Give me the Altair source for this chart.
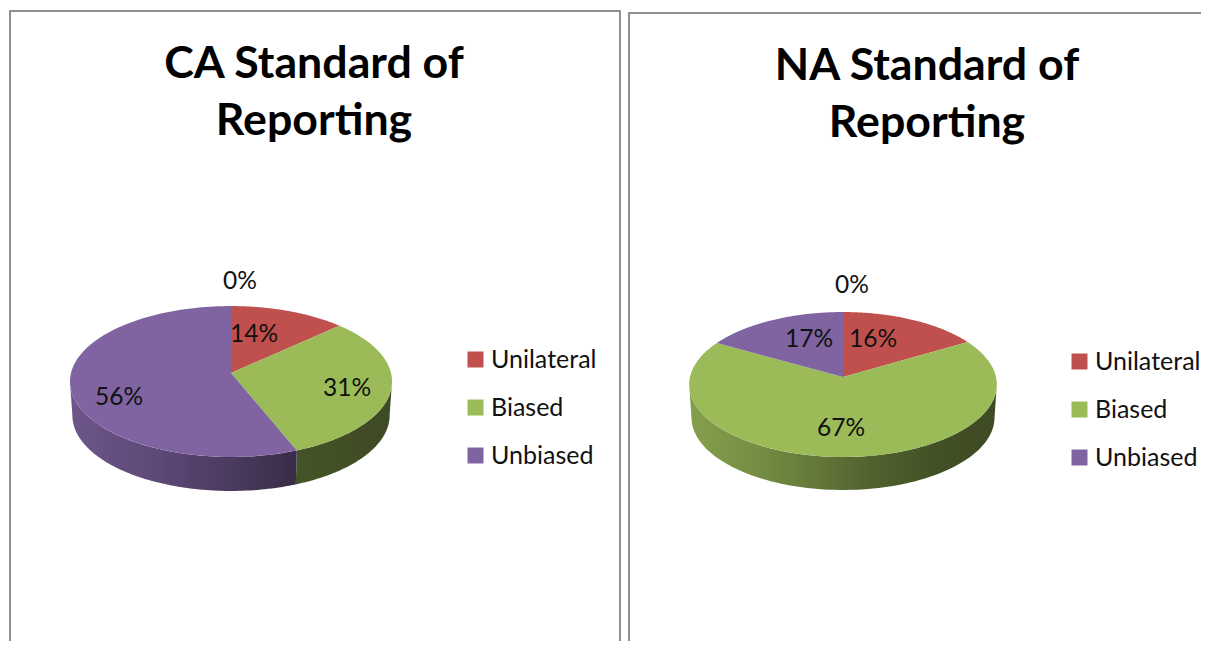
import numpy as np
import pandas as pd
import altair as alt

categories = ["Unilateral", "Biased", "Unbiased"]
colors = ["#c0504d", "#9bbb59", "#8064a2"]
ca_values = [13, 31, 56]
na_values = [16.4, 66.9, 16.7]
ca_labels = ["0%", "14%", "31%", "56%"]
na_labels = ["0%", "16%", "67%", "17%"]
ca_title = ["CA Standard of", "Reporting"]
na_title = ["NA Standard of", "Reporting"]

FONT = "Lato"
FRAME = "#8f8f8f"
SHADE = [(0.0, 0.86), (0.3, 0.72), (0.45, 0.62), (0.7, 0.45), (1.0, 0.40)]


def project(theta, g):
    u, v = np.sin(theta), -np.cos(theta)
    w = 1 - g["p"] * v
    return g["cx"] + g["rx"] * u / w, g["cy"] + g["ry"] * v / w


def darken(color, k):
    r, g, b = (int(color[i:i + 2], 16) for i in (1, 3, 5))
    return "#%02x%02x%02x" % (int(r * k), int(g * k), int(b * k))


def wall_gradient(color, x0, x1, xa, xb):
    stops = []
    fa, fb = (xa - x0) / (x1 - x0), (xb - x0) / (x1 - x0)
    fs = [f for f, _ in SHADE]
    ks = [k for _, k in SHADE]
    for t in np.linspace(0, 1, 6):
        f = fa + (fb - fa) * t
        stops.append({"offset": float(t), "color": darken(color, float(np.interp(f, fs, ks)))})
    return {"gradient": "linear", "x1": 0, "x2": 1, "y1": 0, "y2": 0, "stops": stops}


def panel(values, labels, title, g, label_xy, title_xy, frame, xdom, width):
    fractions = np.array(values, dtype=float) / sum(values)
    edges = np.concatenate([[0], np.cumsum(fractions)]) * 2 * np.pi
    xs = alt.X("x:Q", scale=alt.Scale(domain=xdom), axis=None)
    ys = alt.Y("y:Q", scale=alt.Scale(domain=[641, 8]), axis=None)
    layers = []

    # frame
    fr = pd.DataFrame(frame, columns=["x", "y"]).assign(seq=lambda d: d.index)
    layers.append(alt.Chart(fr).mark_line(color=FRAME, strokeWidth=2, strokeJoin="round", clip=False).encode(
        x=xs, y=ys, order="seq:Q"))

    # side walls
    th_lo = np.arccos(-g["p"])
    th_hi = 2 * np.pi - th_lo
    x_left = project(th_hi, g)[0]
    x_right = project(th_lo, g)[0]
    for i, cat in enumerate(categories):
        a, b = max(edges[i], th_lo), min(edges[i + 1], th_hi)
        if b <= a:
            continue
        t = np.linspace(a, b, 90)
        x, y = project(t, g)
        xb = g["cx"] + (x - g["cx"]) * g["shrink"]
        yb = y + g["depth"]
        df = pd.DataFrame({"x": np.r_[x, xb[::-1]], "y": np.r_[y, yb[::-1]]})
        df["seq"] = df.index
        grad = wall_gradient(colors[i], x_left, x_right, df.x.min(), df.x.max())
        layers.append(alt.Chart(df).mark_line(filled=True, color=grad, strokeWidth=0).encode(
            x=xs, y=ys, order="seq:Q"))

    # top faces
    rows = []
    for i, cat in enumerate(categories):
        t = np.linspace(edges[i], edges[i + 1], 120)
        x, y = project(t, g)
        rows.append(pd.DataFrame({
            "x": np.r_[g["cx"], x, g["cx"]],
            "y": np.r_[g["cy"], y, g["cy"]],
            "category": cat}))
    top = pd.concat(rows, ignore_index=True)
    top["seq"] = top.index
    layers.append(alt.Chart(top).mark_line(filled=True, strokeWidth=0).encode(
        x=xs, y=ys, order="seq:Q",
        color=alt.Color("category:N",
                        scale=alt.Scale(domain=categories, range=colors),
                        sort=categories,
                        legend=alt.Legend(
                            title=None, orient="none", padding=0,
                            legendX=g["legend_x"], legendY=g["legend_y"],
                            symbolType="square", symbolSize=256, symbolStrokeWidth=0,
                            labelFont=FONT, labelFontSize=25, labelColor="#111111",
                            labelOffset=3, rowPadding=22, labelLimit=200))))

    # data labels
    lab = pd.DataFrame({"x": [p[0] for p in label_xy], "y": [p[1] for p in label_xy], "t": labels})
    layers.append(alt.Chart(lab).mark_text(font=FONT, fontSize=24.5, color="#111111",
                                           align="center", baseline="middle").encode(
        x=xs, y=ys, text="t:N"))

    # title
    ttl = pd.DataFrame({"x": [title_xy[0]] * 2,
                        "y": [title_xy[1], title_xy[1] + 57], "t": title})
    layers.append(alt.Chart(ttl).mark_text(font=FONT, fontSize=44.7, fontWeight="bold", color="#000000",
                                           align="center", baseline="alphabetic").encode(
        x=xs, y=ys, text="t:N"))

    return alt.layer(*layers).resolve_scale(color="independent").properties(width=width, height=633)


g_ca = dict(cx=231, cy=373, rx=160, ry=74.5, p=0.1127, depth=34, shrink=0.985, legend_x=455, legend_y=339)
g_na = dict(cx=843, cy=377, rx=153, ry=71.7, p=0.1034, depth=33, shrink=0.985, legend_x=443, legend_y=341)

left = panel(ca_values, ca_labels, ca_title, g_ca,
             [(240, 282), (254, 335), (347, 389), (119, 398)], (314, 78),
             [(10, 641), (10, 11), (620, 11), (620, 641)], [8, 624], 616)
right = panel(na_values, na_labels, na_title, g_na,
              [(852, 286), (873, 340), (841, 429), (809, 340)], (927, 80),
              [(629, 641), (629, 13), (1201, 13)], [624, 1201], 577)

chart = alt.hconcat(left, right, spacing=0).resolve_scale(color="independent").configure(
    padding=0, background="white").configure_view(stroke=None)

chart.save("out.html", embed_options={"renderer": "svg", "actions": False})
